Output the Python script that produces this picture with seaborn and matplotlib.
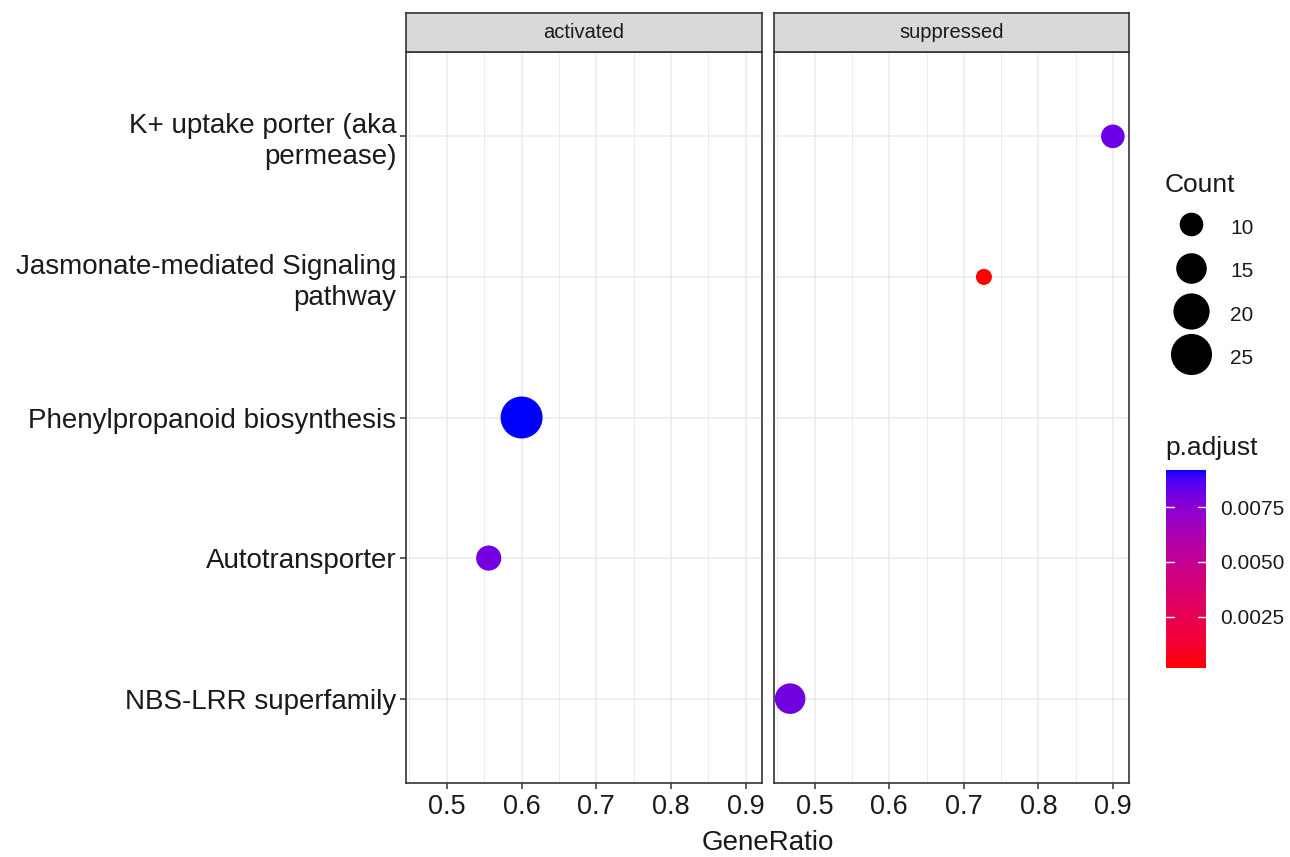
import numpy as np
import pandas as pd
import matplotlib
matplotlib.use("Agg")
import matplotlib.pyplot as plt
from matplotlib.colors import LinearSegmentedColormap, Normalize
from matplotlib.lines import Line2D
from matplotlib.ticker import MultipleLocator
import seaborn as sns

# ---- data -------------------------------------------------------------
terms = [
    "K+ uptake porter (aka\npermease)",
    "Jasmonate-mediated Signaling\npathway",
    "Phenylpropanoid biosynthesis",
    "Autotransporter",
    "NBS-LRR superfamily",
]
groups = ["suppressed", "suppressed", "activated", "activated", "suppressed"]
gene_ratio = [0.900, 0.727, 0.600, 0.556, 0.467]
counts = [10, 6, 26, 11, 15]
p_adjust = [0.0082, 0.00016, 0.0092, 0.0080, 0.0081]

panels = ["activated", "suppressed"]
legend_counts = [10, 15, 20, 25]
xticks = [0.5, 0.6, 0.7, 0.8, 0.9]
cbar_ticks = [0.0025, 0.0050, 0.0075]

df = pd.DataFrame({
    "Description": pd.Categorical(terms, categories=terms, ordered=True),
    "group": groups,
    "GeneRatio": gene_ratio,
    "Count": counts,
    "p.adjust": p_adjust,
})
df["row"] = df["Description"].cat.codes


# ---- red -> blue gradient interpolated in CIE Lab ---------------------
def _srgb_to_lab(rgb):
    rgb = np.asarray(rgb, float)
    lin = np.where(rgb <= 0.04045, rgb / 12.92, ((rgb + 0.055) / 1.055) ** 2.4)
    m = np.array([[0.4124, 0.3576, 0.1805],
                  [0.2126, 0.7152, 0.0722],
                  [0.0193, 0.1192, 0.9505]])
    xyz = m @ lin / np.array([0.95047, 1.0, 1.08883])
    f = np.where(xyz > 0.008856, np.cbrt(xyz), 7.787 * xyz + 16 / 116)
    return np.array([116 * f[1] - 16, 500 * (f[0] - f[1]), 200 * (f[1] - f[2])])


def _lab_to_srgb(lab):
    L, a, b = lab
    fy = (L + 16) / 116
    fx = fy + a / 500
    fz = fy - b / 200
    f = np.array([fx, fy, fz])
    xyz = np.where(f ** 3 > 0.008856, f ** 3, (f - 16 / 116) / 7.787)
    xyz = xyz * np.array([0.95047, 1.0, 1.08883])
    m = np.array([[3.2406, -1.5372, -0.4986],
                  [-0.9689, 1.8758, 0.0415],
                  [0.0557, -0.2040, 1.0570]])
    lin = m @ xyz
    lin = np.clip(lin, 0, 1)
    rgb = np.where(lin <= 0.0031308, 12.92 * lin, 1.055 * lin ** (1 / 2.4) - 0.055)
    return np.clip(rgb, 0, 1)


lab_lo = _srgb_to_lab([1, 0, 0])
lab_hi = _srgb_to_lab([0, 0, 1])
grad = [_lab_to_srgb(lab_lo + t * (lab_hi - lab_lo)) for t in np.linspace(0, 1, 64)]
cmap = LinearSegmentedColormap.from_list("red_blue_lab", grad)

p_norm = (min(p_adjust), max(p_adjust))
size_norm = (min(counts), max(counts))
size_range = (133, 914)  # marker areas in pt^2


def count_to_area(c):
    t = (c - size_norm[0]) / (size_norm[1] - size_norm[0])
    return size_range[0] + t * (size_range[1] - size_range[0])


# ---- figure -----------------------------------------------------------
sns.set_style("white")
plt.rcParams["font.family"] = ["Liberation Sans", "DejaVu Sans"]

W, H = 1290, 857
fig = plt.figure(figsize=(W / 100, H / 100), dpi=100)


def fx(px):
    return px / W


def fy(py):
    return 1 - py / H


panel_left = [406, 774]
panel_right = [762, 1129]
p_top, p_bot = 52, 783
strip_top = 13

span = max(gene_ratio) - min(gene_ratio)
xlim = (min(gene_ratio) - 0.05 * span, max(gene_ratio) + 0.05 * span)
n = len(terms)

edge = "#333333"
txt = "#1A1A1A"
for i, panel in enumerate(panels):
    ax = fig.add_axes([fx(panel_left[i]), fy(p_bot),
                       fx(panel_right[i] - panel_left[i]), (p_bot - p_top) / H])
    sub = df[df["group"] == panel]
    sns.scatterplot(
        data=sub, x="GeneRatio", y="row", hue="p.adjust", size="Count",
        palette=cmap, hue_norm=p_norm, sizes=size_range, size_norm=size_norm,
        linewidth=0, legend=False, ax=ax, zorder=3, clip_on=False,
    )
    ax.set_xlim(*xlim)
    ax.set_ylim(n - 0.4, -0.6)
    ax.set_xticks(xticks)
    ax.set_xticklabels([f"{v:g}" for v in xticks])
    ax.xaxis.set_minor_locator(MultipleLocator(0.05))
    ax.set_yticks(range(n))
    if i == 0:
        ax.set_yticklabels(terms, fontsize=20, color=txt, linespacing=1.25)
        ax.tick_params(axis="y", length=4, width=1.1, color=edge, pad=3, left=True)
    else:
        ax.set_yticklabels([])
        ax.tick_params(axis="y", length=0)
    ax.tick_params(axis="x", which="major", length=4, width=1.1, color=edge,
                   labelsize=19.5, labelcolor=txt, pad=4, bottom=True)
    ax.tick_params(axis="x", which="minor", length=0)
    ax.set_xlabel("")
    ax.set_ylabel("")
    ax.grid(True, which="major", color="#EBEBEB", linewidth=1.1, zorder=0)
    ax.grid(True, which="minor", axis="x", color="#EBEBEB", linewidth=0.7, zorder=0)
    ax.set_axisbelow(True)
    for s in ax.spines.values():
        s.set_visible(True)
        s.set_color(edge)
        s.set_linewidth(1.2)

    # facet strip
    sax = fig.add_axes([fx(panel_left[i]), fy(p_top),
                        fx(panel_right[i] - panel_left[i]), (p_top - strip_top) / H])
    sax.set_facecolor("#D9D9D9")
    sax.set_xticks([])
    sax.set_yticks([])
    for s in sax.spines.values():
        s.set_visible(True)
        s.set_color(edge)
        s.set_linewidth(1.2)
    sax.text(0.5, 0.5, panel, ha="center", va="center", fontsize=14.5,
             color=txt, transform=sax.transAxes)

fig.text(fx((panel_left[0] + panel_right[1]) / 2), fy(843), "GeneRatio",
         ha="center", va="center", fontsize=20, color=txt)

# ---- size legend --------------------------------------------------------
handles = [Line2D([], [], linestyle="none", marker="o", markersize=np.sqrt(count_to_area(c)),
                  markerfacecolor="black", markeredgewidth=0) for c in legend_counts]
leg = fig.legend(handles, [str(c) for c in legend_counts], title="Count",
                 loc="upper left", bbox_to_anchor=(fx(1165), fy(173)),
                 frameon=False, fontsize=15, title_fontsize=19,
                 handlelength=2.5, handleheight=1.5, labelspacing=0.85,
                 handletextpad=0.62, borderpad=0, borderaxespad=0)
leg._legend_box.align = "left"
for t in leg.get_texts():
    t.set_color(txt)
leg.get_title().set_color(txt)

# ---- colour bar -----------------------------------------------------------
cax = fig.add_axes([fx(1166), fy(668), fx(40), (668 - 470) / H])
sm = plt.cm.ScalarMappable(norm=Normalize(*p_norm), cmap=cmap)
cb = fig.colorbar(sm, cax=cax, ticks=cbar_ticks)
cb.outline.set_visible(False)
cb.ax.set_yticklabels([f"{v:.4f}" for v in cbar_ticks])
cb.ax.tick_params(length=0, labelsize=15, labelcolor=txt, pad=10)
for v in cbar_ticks:
    cax.plot([0, 0.2], [v, v], color="white", linewidth=1, transform=cax.get_yaxis_transform())
    cax.plot([0.8, 1.0], [v, v], color="white", linewidth=1, transform=cax.get_yaxis_transform())
fig.text(fx(1165), fy(448), "p.adjust", ha="left", va="center", fontsize=19, color=txt)

fig.savefig("out.png", dpi=100, facecolor="white")
